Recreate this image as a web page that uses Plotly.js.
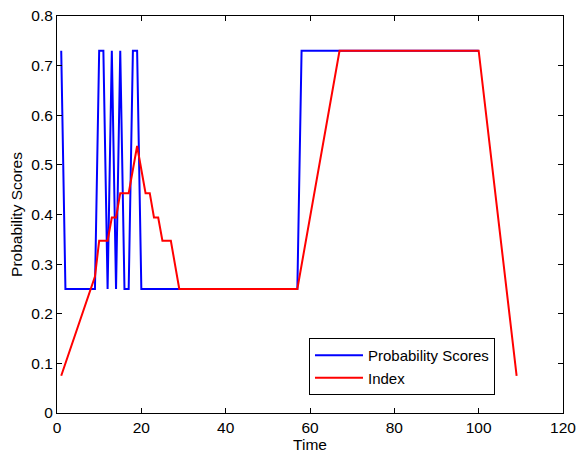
<!DOCTYPE html>
<html>
<head>
<meta charset="utf-8">
<script src="https://cdn.plot.ly/plotly-3.0.1.min.js"></script>
<style>html,body{margin:0;padding:0;background:#fff;}#chart{width:576px;height:453px;}</style>
</head>
<body>
<div id="chart"></div>
<script>
const probTime = [1, 2, 9, 10, 11, 12, 13, 14, 15, 16, 17, 18, 19, 20, 57, 58, 100];
const probScores = [0.73, 0.25, 0.25, 0.73, 0.73, 0.25, 0.73, 0.25, 0.73, 0.25, 0.25, 0.73, 0.73, 0.25, 0.25, 0.73, 0.73];
const indexTime = [1, 9, 10, 12, 13, 14, 15, 17, 19, 21, 22, 23, 24, 25, 27, 29, 57, 67, 100, 109];
const indexValues = [0.075, 0.275, 0.347, 0.347, 0.394, 0.394, 0.443, 0.443, 0.538, 0.443, 0.443, 0.394, 0.394, 0.347, 0.347, 0.25, 0.25, 0.73, 0.73, 0.075];
const xTicks = [0, 20, 40, 60, 80, 100, 120];
const yTicks = [0, 0.1, 0.2, 0.3, 0.4, 0.5, 0.6, 0.7, 0.8];

const traces = [
  {x: probTime, y: probScores, type: 'scatter', mode: 'lines', name: 'Probability Scores',
   line: {color: '#0000ff', width: 2}},
  {x: indexTime, y: indexValues, type: 'scatter', mode: 'lines', name: 'Index',
   line: {color: '#ff0000', width: 2}}
];
const fam = 'Liberation Sans, Arial, sans-serif';
const axisCommon = {
  showgrid: false, zeroline: false, showline: true, mirror: 'ticks',
  linecolor: '#000', linewidth: 1, ticks: 'inside', ticklen: 5, tickcolor: '#000',
  tickfont: {family: fam, size: 15.5, color: '#000'}, automargin: false, ticklabeloverflow: 'allow'
};
const layout = {
  width: 576, height: 453,
  margin: {l: 57, r: 13, t: 16, b: 40},
  paper_bgcolor: '#fff', plot_bgcolor: '#fff',
  font: {family: fam, size: 15.5, color: '#000'},
  xaxis: Object.assign({}, axisCommon, {range: [0, 120], tickvals: xTicks, ticktext: xTicks.map(String),
    title: {text: 'Time', font: {size: 15.5}, standoff: 0}}),
  yaxis: Object.assign({}, axisCommon, {range: [0, 0.8], tickvals: yTicks, ticktext: yTicks.map(v => String(v)),
    title: {text: 'Probability Scores', font: {size: 15.5}, standoff: 4}}),
  showlegend: true,
  legend: {x: 0.498, y: 0.189, xanchor: 'left', yanchor: 'top', bordercolor: '#000', borderwidth: 1,
    bgcolor: '#fff', font: {size: 15}, tracegroupgap: 0, itemwidth: 48}
};
Plotly.newPlot('chart', traces, layout, {displayModeBar: false, staticPlot: true});
</script>
</body>
</html>
